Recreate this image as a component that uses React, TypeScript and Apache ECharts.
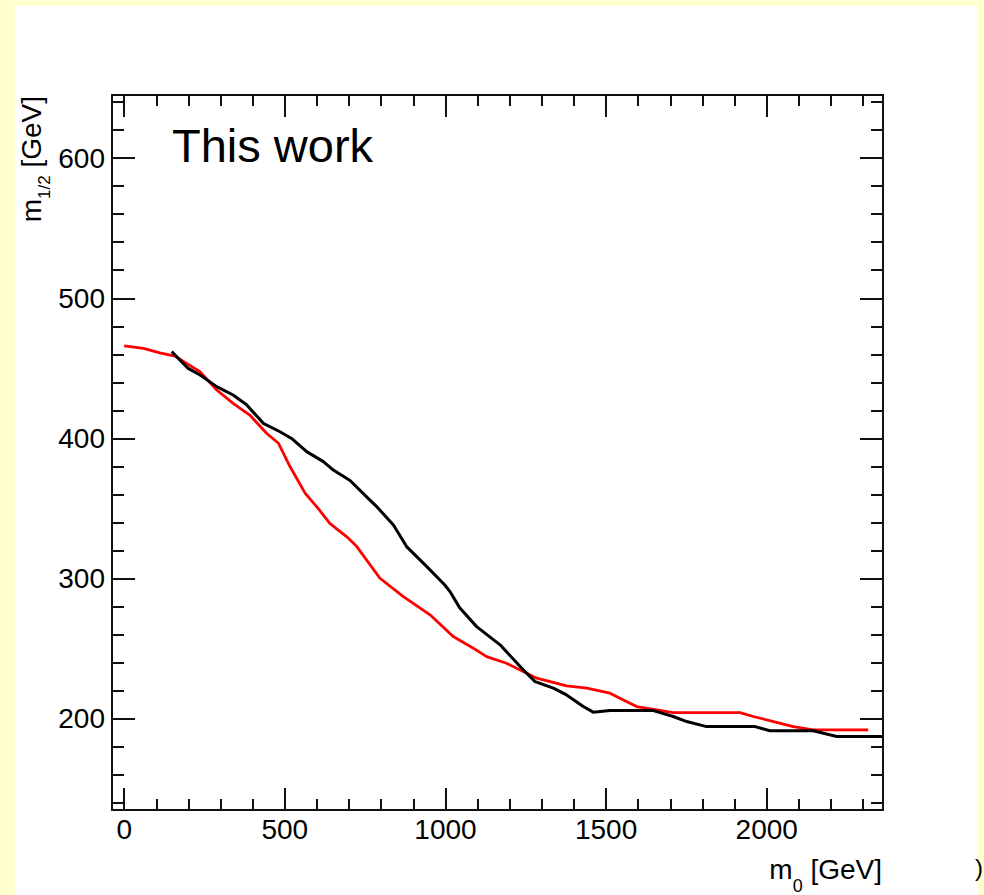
import React, { useEffect, useRef } from "react";
import * as echarts from "echarts";

// ---- data ----
const redX = [0, 60, 111, 158, 194, 236, 288, 339, 391, 443, 480, 516, 563, 604, 640, 692, 724, 796, 869, 952, 1024, 1087, 1128, 1190, 1253, 1284, 1377, 1440, 1512, 1554, 1595, 1658, 1709, 1917, 1958, 2021, 2083, 2145, 2316];
const redY = [466, 464.3, 461, 458.8, 453.6, 447.6, 434.6, 425, 416.7, 403.7, 396.6, 380, 361, 350, 339.5, 330, 322.9, 300.3, 287.2, 274.2, 258.7, 250.4, 244.4, 239.7, 232.6, 229, 223.5, 221.9, 218.3, 213.5, 208.8, 206.4, 204.5, 204.5, 201.7, 198.1, 194.5, 192.2, 192.2];

const blackX = [148, 173, 199, 236, 288, 339, 381, 433, 485, 521, 568, 620, 651, 703, 765, 786, 838, 879, 942, 998, 1014, 1045, 1097, 1170, 1242, 1279, 1336, 1377, 1429, 1460, 1512, 1647, 1709, 1751, 1813, 1964, 2010, 2145, 2218, 2362];
const blackY = [462, 456, 450, 445.3, 437, 431, 424, 410.8, 404.8, 400, 390.6, 383.5, 377.5, 370, 356, 351.4, 338.3, 322.9, 308.6, 295.5, 290.8, 279, 265.8, 252.8, 235, 226.6, 221.9, 217.1, 208.8, 204.8, 205.9, 205.9, 201.7, 198.1, 194.5, 194.5, 191.5, 191.5, 187.4, 187.4];

const xMajorTicks = [0, 500, 1000, 1500, 2000];
const xMinorTicks = [100, 200, 300, 400, 600, 700, 800, 900, 1100, 1200, 1300, 1400, 1600, 1700, 1800, 1900, 2100, 2200, 2300];
const yMajorTicks = [200, 300, 400, 500, 600];
const yMinorTicks = [140, 160, 180, 220, 240, 260, 280, 320, 340, 360, 380, 420, 440, 460, 480, 520, 540, 560, 580, 620, 640];

const X_MIN = -38;
const X_MAX = 2362;
const Y_MIN = 135;
const Y_MAX = 645;

const xTitle = "{m|m}{s|0}{m| [GeV]}";
const yTitle = "{m|m}{s|1/2}{m| [GeV]}";
const annotation = "This work";
const edgeText = ")";

const FONT = "'Liberation Sans', Arial, Helvetica, sans-serif";
const FRAME = "#111";

function axisBase(ticks: number[], len: number, showLine: boolean, labels: number[] | null, margin: number) {
  return {
    axisLine: { show: showLine, onZero: false, lineStyle: { color: FRAME, width: 2 } },
    axisTick: { show: true, inside: true, length: len, customValues: ticks, lineStyle: { color: FRAME, width: 2 } },
    axisLabel: labels
      ? {
          show: true,
          customValues: labels,
          color: "#000",
          fontSize: 28,
          fontFamily: FONT,
          margin,
          formatter: (v: number) => String(v),
        }
      : { show: false },
    splitLine: { show: false },
    minorTick: { show: false },
    minorSplitLine: { show: false },
  };
}

export default function App() {
  const ref = useRef<HTMLDivElement>(null);
  useEffect(() => {
    if (!ref.current) return;
    const chart = echarts.init(ref.current, null, { renderer: "svg" });
    const xa = (position: string, ticks: number[], len: number, showLine: boolean, labels: number[] | null) => ({
      type: "value",
      gridIndex: 0,
      position,
      min: X_MIN,
      max: X_MAX,
      ...axisBase(ticks, len, showLine, labels, 5),
    });
    const ya = (position: string, ticks: number[], len: number, showLine: boolean, labels: number[] | null) => ({
      type: "value",
      gridIndex: 0,
      position,
      min: Y_MIN,
      max: Y_MAX,
      ...axisBase(ticks, len, showLine, labels, 7),
    });
    chart.setOption({
      animation: false,
      backgroundColor: "#FFFFD0",
      grid: { left: 112, top: 95, width: 771, height: 715, containLabel: false },
      xAxis: [
        xa("bottom", xMajorTicks, 22, true, xMajorTicks),
        xa("bottom", xMinorTicks, 11, false, null),
        xa("top", xMajorTicks, 22, true, null),
        xa("top", xMinorTicks, 11, false, null),
      ],
      yAxis: [
        ya("left", yMajorTicks, 23, true, yMajorTicks),
        ya("left", yMinorTicks, 12, false, null),
        ya("right", yMajorTicks, 23, true, null),
        ya("right", yMinorTicks, 12, false, null),
      ],
      series: [
        {
          type: "line",
          name: "red",
          xAxisIndex: 0,
          yAxisIndex: 0,
          data: redX.map((x, i) => [x, redY[i]]),
          showSymbol: false,
          symbol: "none",
          clip: true,
          lineStyle: { color: "#ff0000", width: 2.8 },
          z: 3,
        },
        {
          type: "line",
          name: "black",
          xAxisIndex: 0,
          yAxisIndex: 0,
          data: blackX.map((x, i) => [x, blackY[i]]),
          showSymbol: false,
          symbol: "none",
          clip: true,
          lineStyle: { color: "#000000", width: 3 },
          z: 4,
        },
      ],
      graphic: [
        {
          type: "rect",
          z: -10,
          silent: true,
          shape: { x: 15, y: 6, width: 963, height: 900 },
          style: { fill: "#ffffff" },
        },
        {
          type: "text",
          z: 10,
          x: 172,
          y: 145.7,
          style: { text: annotation, fill: "#000", fontSize: 47, fontFamily: FONT, align: "left", verticalAlign: "middle" },
        },
        {
          type: "text",
          z: 10,
          x: 882,
          y: 855.3,
          style: {
            text: xTitle,
            align: "right",
            verticalAlign: "top",
            fill: "#000",
            fontFamily: FONT,
            rich: {
              m: { fontSize: 28, fontFamily: FONT, lineHeight: 32, verticalAlign: "top", fill: "#000" },
              s: { fontSize: 18, fontFamily: FONT, lineHeight: 61, verticalAlign: "middle", fill: "#000" },
            },
          },
        },
        {
          type: "text",
          z: 10,
          x: 17.6,
          y: 96,
          rotation: Math.PI / 2,
          style: {
            text: yTitle,
            align: "right",
            verticalAlign: "top",
            fill: "#000",
            fontFamily: FONT,
            rich: {
              m: { fontSize: 28, fontFamily: FONT, lineHeight: 32, verticalAlign: "top", fill: "#000" },
              s: { fontSize: 17, fontFamily: FONT, lineHeight: 54, verticalAlign: "middle", fill: "#000" },
            },
          },
        },
        {
          type: "text",
          z: 10,
          x: 975,
          y: 867,
          style: { text: edgeText, fill: "#000", fontSize: 24, fontFamily: FONT, align: "left", verticalAlign: "middle" },
        },
      ],
    });
    return () => chart.dispose();
  }, []);
  return <div ref={ref} style={{ position: "absolute", left: 0, top: 0, width: 984, height: 895 }} />;
}
